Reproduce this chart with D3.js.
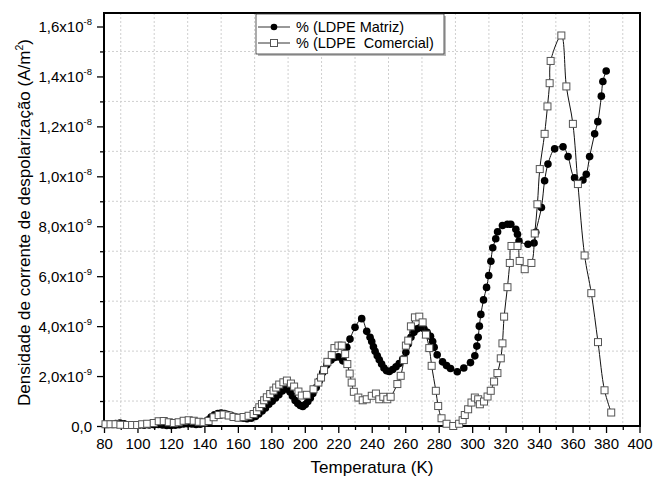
<!DOCTYPE html>
<html><head><meta charset="utf-8">
<script src="https://cdn.jsdelivr.net/npm/d3@7/dist/d3.min.js"></script>
<style>
body{margin:0;background:#fff}
text{font-family:"Liberation Sans",Arial,sans-serif;fill:#000}
</style>
</head><body>
<svg id="chart" width="654" height="481"></svg>
<script>
// ---- DATA (current density in units of 1e-9 A/m^2) ----
const matrizTemp = [81,84,87,89.5,92,95,98,101,104,107,110,112.5,115,117.5,120,122.5,125,127.5,130,132.5,135,137.5,140,142,144,146,148,150,152,154,156,158,160.5,163,165.5,168,170.5,172.5,174.5,176.5,178.5,180.5,182.5,184.5,186.5,188.2,189.8,191.2,192.6,194.2,195.8,197.3,198.8,200.3,201.8,203.3,204.8,206.8,208.7,210.7,213.1,215.7,218.1,220.1,222.7,225.1,227.0,230,234,237,239,240,241,242,243.3,244.5,245.9,247.3,248.9,250.5,252.5,254.5,256.4,258.5,260.4,261.8,263.4,265.2,267.2,269.2,271.2,273.1,275.1,276.4,277.3,279.1,282.3,284.7,287.1,291.1,295.0,299.0,301.6,302.8,303.6,304.3,305.2,306.8,308.6,309.9,311.2,312.3,314.1,315.2,318.1,321.1,323.1,326.1,327.1,328.0,333.4,337.0,338.0,341.4,343.3,345.3,349.3,354.3,357.3,361.2,366.2,368.2,370.2,373.2,375.1,377.2,378.1,380.1];
const matrizValue = [0.06,0.07,0.1,0.12,0.09,0.04,0.03,0.03,0.03,0.04,0.05,0.06,0.04,0.02,0.02,0.03,0.05,0.08,0.09,0.08,0.06,0.07,0.12,0.24,0.36,0.45,0.5,0.52,0.5,0.46,0.42,0.38,0.34,0.31,0.29,0.31,0.38,0.48,0.6,0.72,0.87,0.99,1.12,1.25,1.4,1.5,1.47,1.36,1.2,1.02,0.9,0.82,0.78,0.86,0.98,1.12,1.3,1.54,1.81,2.14,2.44,2.64,2.75,2.77,2.61,3.15,3.48,3.95,4.3,3.79,3.55,3.38,3.17,2.99,2.81,2.65,2.48,2.32,2.21,2.18,2.26,2.37,2.5,2.68,2.95,3.28,3.55,3.75,3.89,3.95,3.89,3.75,3.59,3.38,3.15,2.85,2.57,2.42,2.3,2.17,2.32,2.54,2.81,3.2,3.55,4.0,4.47,5.05,5.55,6.03,6.6,7.14,7.5,7.78,8.03,8.08,8.08,7.88,7.68,7.41,7.28,7.33,7.76,8.75,9.82,10.49,11.1,11.18,10.79,9.94,9.85,10.08,10.79,11.7,12.19,13.21,13.8,14.22];

const comercialTemp = [80.9,83.9,86.9,89.8,93.8,96.8,99.8,102.8,105.8,109.7,112.7,115.7,118.7,121.7,124.6,127.6,130.6,133.6,136.6,139.5,142.5,145.5,148.5,151.5,154.5,157.4,160.4,163.4,166.4,169.4,171.4,172.8,174.4,175.7,177.3,179.3,181.3,182.9,184.7,187.2,189.3,191.7,193.6,196.2,198.2,201.2,205.2,208.1,209.7,211.5,213.5,216.1,217.7,220.1,222.1,224.1,225.4,226.8,228.0,229.3,232.0,234.6,237.0,240.0,242.5,244.5,246.9,249.3,251.3,255.3,257.3,259.2,260.4,261.8,263.4,265.8,268.4,270.4,272.4,274.4,275.8,278.3,279.7,281.7,284.7,288.7,292.2,294.3,295.6,297.6,299.6,301.6,303.6,304.6,307.1,309.2,311.1,313.1,315.1,317.1,318.1,319.1,321.1,322.5,323.5,327.1,328.4,331.4,335.4,337.4,339.0,340.4,343.3,345.0,346.3,346.9,353.3,356.3,360.2,363.2,367.2,371.2,375.2,379.1,383.1];
const comercialValue = [0.07,0.07,0.07,0.05,0.04,0.04,0.04,0.07,0.09,0.12,0.19,0.2,0.15,0.12,0.15,0.21,0.23,0.21,0.17,0.15,0.2,0.35,0.44,0.46,0.42,0.36,0.33,0.36,0.41,0.48,0.6,0.75,0.88,1.03,1.15,1.28,1.42,1.54,1.66,1.75,1.82,1.7,1.58,1.38,1.22,1.25,1.47,1.74,1.94,2.24,2.57,2.84,3.12,3.22,3.22,2.88,2.48,2.1,1.74,1.37,1.14,1.03,1.07,1.21,1.3,1.07,1.17,1.07,1.17,1.68,2.01,2.64,3.22,3.42,3.99,4.35,4.38,4.15,3.66,3.12,2.41,1.41,0.8,0.31,0.09,0.0,0.09,0.23,0.44,0.67,0.94,1.14,1.07,0.87,0.98,1.18,1.41,1.78,2.12,2.71,3.31,4.38,5.56,6.53,7.21,7.21,6.61,6.28,6.53,7.71,8.88,10.29,11.7,12.8,13.73,14.62,15.64,13.6,12.1,9.69,6.83,5.32,3.36,1.43,0.54];

const seriesNames = ["% (LDPE Matriz)", "% (LDPE  Comercial)"];
const xTicks = [80,100,120,140,160,180,200,220,240,260,280,300,320,340,360,380,400];
const xMinor = [90,110,130,150,170,190,210,230,250,270,290,310,330,350,370,390];
const yTicks = [0,2,4,6,8,10,12,14,16];
const yTickMantissa = ["0,0","2,0x10","4,0x10","6,0x10","8,0x10","1,0x10","1,2x10","1,4x10","1,6x10"];
const yTickExponent = ["","-9","-9","-9","-9","-8","-8","-8","-8"];
const yMinor = [1,3,5,7,9,11,13,15];
const xTitle = "Temperatura (K)";
const yTitle = "Densidade de corrente de despolarização (A/m";

// ---- CHART ----
const svg = d3.select("#chart");
const L = 104, R = 640, T = 13, B = 426;
const x = d3.scaleLinear().domain([80,400]).range([L,R-0.5]);
const y = d3.scaleLinear().domain([0,16]).range([B,26.5]);

// grid
const grid = svg.append("g").attr("stroke","#cfcfcf").attr("stroke-width",1).attr("stroke-dasharray","2,2");
grid.selectAll("line.v").data(xMinor).join("line").attr("class","v")
  .attr("x1",d=>x(d)).attr("x2",d=>x(d)).attr("y1",T).attr("y2",B);
grid.selectAll("line.h").data(yMinor).join("line").attr("class","h")
  .attr("x1",L).attr("x2",R).attr("y1",d=>y(d)).attr("y2",d=>y(d));

// axes ticks
const xAxisMajor = d3.axisBottom(x).tickValues(xTicks).tickSize(7).tickPadding(5).tickFormat(d=>d);
const xAxisMinor = d3.axisBottom(x).tickValues(xMinor).tickSize(4).tickFormat("");
const gx = svg.append("g").attr("transform",`translate(0,${B})`).call(xAxisMajor);
svg.append("g").attr("transform",`translate(0,${B})`).call(xAxisMinor).call(g=>g.select(".domain").remove());
gx.select(".domain").remove();
gx.selectAll("text").attr("font-size",15).attr("font-family","Liberation Sans, Arial, sans-serif").attr("fill","#000");
svg.selectAll(".tick line").attr("stroke","#000").attr("stroke-width",1.3);

const yAxisMajor = d3.axisLeft(y).tickValues(yTicks).tickSize(7).tickFormat("");
const yAxisMinor = d3.axisLeft(y).tickValues(yMinor).tickSize(4).tickFormat("");
svg.append("g").attr("transform",`translate(${L},0)`).call(yAxisMajor).call(g=>g.select(".domain").remove())
  .selectAll(".tick line").attr("stroke","#000").attr("stroke-width",1.3);
svg.append("g").attr("transform",`translate(${L},0)`).call(yAxisMinor).call(g=>g.select(".domain").remove())
  .selectAll(".tick line").attr("stroke","#000").attr("stroke-width",1.3);

const yl = svg.append("g");
yTicks.forEach((v,i)=>{
  const t = yl.append("text").attr("x",92).attr("y",y(v)+5.5).attr("text-anchor","end").attr("font-size",15);
  t.append("tspan").text(yTickMantissa[i]);
  if (yTickExponent[i]) t.append("tspan").attr("font-size",9.5).attr("dy",-7).text(yTickExponent[i]);
});

// frame
svg.append("rect").attr("x",L).attr("y",T).attr("width",R-L).attr("height",B-T)
  .attr("fill","none").attr("stroke","#000").attr("stroke-width",2);

// data
const matriz = matrizTemp.map((t,i)=>({t, v: matrizValue[i]}));
const comercial = comercialTemp.map((t,i)=>({t, v: comercialValue[i]}));
const line = d3.line().x(d=>x(d.t)).y(d=>y(d.v)).curve(d3.curveCatmullRom.alpha(0.5));

const plot = svg.append("g");
plot.append("path").datum(matriz).attr("d",line).attr("fill","none").attr("stroke","#111").attr("stroke-width",1);
plot.selectAll("circle.m").data(matriz).join("circle").attr("class","m")
  .attr("cx",d=>x(d.t)).attr("cy",d=>y(d.v)).attr("r",3.8).attr("fill","#000");
plot.append("path").datum(comercial).attr("d",line).attr("fill","none").attr("stroke","#111").attr("stroke-width",1);
const sq = 7;
plot.selectAll("rect.c").data(comercial).join("rect").attr("class","c")
  .attr("x",d=>x(d.t)-sq/2).attr("y",d=>y(d.v)-sq/2).attr("width",sq).attr("height",sq)
  .attr("fill","#fff").attr("stroke","#555").attr("stroke-width",1);

// legend
const lg = svg.append("g");
lg.append("rect").attr("x",258).attr("y",16).attr("width",188).attr("height",40).attr("fill","#bbb");
lg.append("rect").attr("x",256).attr("y",14).attr("width",188).attr("height",40).attr("fill","#fff").attr("stroke","#333").attr("stroke-width",0.8);
[0,1].forEach(i=>{
  const yy = 27 + i*16;
  lg.append("line").attr("x1",258).attr("x2",290).attr("y1",yy).attr("y2",yy).attr("stroke","#333").attr("stroke-width",1);
  if (i===0) lg.append("circle").attr("cx",274).attr("cy",yy).attr("r",3.3).attr("fill","#000");
  else lg.append("rect").attr("x",270.5).attr("y",yy-3.5).attr("width",7).attr("height",7).attr("fill","#fff").attr("stroke","#555");
  lg.append("text").attr("x",296).attr("y",yy+5).attr("font-size",14.5).style("white-space","pre").text(seriesNames[i]);
});

// axis titles
svg.append("text").attr("x",(L+R)/2).attr("y",473).attr("text-anchor","middle").attr("font-size",17).text(xTitle);
const yt = svg.append("text").attr("transform",`translate(30,${(T+B)/2 + 3}) rotate(-90)`).attr("text-anchor","middle").attr("font-size",17);
yt.append("tspan").text(yTitle);
yt.append("tspan").attr("font-size",10.5).attr("dy",-7).text("2");
yt.append("tspan").attr("dy",7).text(")");
</script>
</body></html>
